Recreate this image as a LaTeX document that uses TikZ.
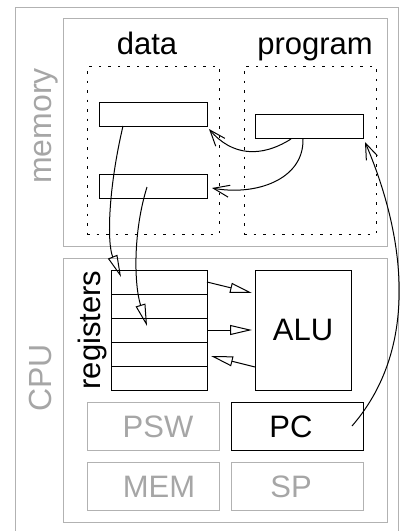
\documentclass[tikz,border=0pt]{standalone}
\usepackage{fontspec}
\setmainfont{Liberation Sans}
\usetikzlibrary{positioning,arrows.meta,calc}

\begin{document}
\begin{tikzpicture}[
        x=0.5pt, y=-0.5pt, line width=0.5pt,
        every node/.style={font=\fontsize{15.5}{18}\selectfont, inner sep=0pt, outer sep=0pt},
        frame/.style={draw=black!30},
        area/.style={draw, dash pattern=on 1.25pt off 3.5pt, minimum width=66pt, minimum height=84pt},
        cell/.style={draw, minimum width=54pt, minimum height=12pt},
        reg/.style={draw, minimum width=48pt, minimum height=12pt},
        spr/.style={draw, minimum width=66pt, minimum height=24pt},
        off/.style={spr, draw=black!30},
        tag/.style={text=black!35, font=\fontsize{16}{18}\selectfont, rotate=90, anchor=base},
        flow/.style={-{Straight Barb[length=8pt, width=6pt]}},
        bus/.style={-{Triangle[open, length=11pt, width=5pt]}}
    ]
        \useasboundingbox (0,0) rectangle (401,531);
        \draw[frame] (15,531) -- (15,7) -- (398,7) -- (398,531);

        % memory
        \node[frame, minimum width=162pt, minimum height=114pt] (memory) at (225,132) {};
        \node[tag] (memory-l) at (52,126) {memory};
        \node[anchor=base] (data-l) at (147,54) {data};
        \node[anchor=base] (program-l) at (315,54) {program};
        \node[area] (data) at (153,150) {};
        \node[area] (program) at (310,150) {};
        \node[cell] (d1) at (153,114) {};
        \node[cell] (d2) at (153,186) {};
        \node[cell] (p1) at (309,126) {};

        % cpu
        \node[frame, minimum width=162pt, minimum height=132pt] (cpu) at (225,390) {};
        \node[tag] (cpu-l) at (52,378) {CPU};
        \node[reg] (r1) at (159,282) {};
        \node[reg, below=0pt of r1] (r2) {};
        \node[reg, below=0pt of r2] (r3) {};
        \node[reg, below=0pt of r3] (r4) {};
        \node[reg, below=0pt of r4] (r5) {};
        \node[tag, text=black, font=\fontsize{15.5}{18}\selectfont] (registers-l) at (100,330) {registers};
        \node[draw, minimum width=48pt, minimum height=60pt] (alu) at (303,330) {ALU};
        \node[off] (psw) at (153,426) {};
        \node[spr] (pc) at (297,426) {};
        \node[off] (mem) at (153,486) {};
        \node[off] (sp) at (297,486) {};
        \node[text=black!35] (psw-l) at (158,427) {PSW};
        \node (pc-l) at (291,427) {PC};
        \node[text=black!35] (mem-l) at (159,487) {MEM};
        \node[text=black!35] (sp-l) at (291,487) {SP};

        % data moves
        \draw[bus] ($(d1.south west)+(24,0)$) .. controls +(-15,64) and +(-14,-34) .. ($(r1.north west)+(10,7)$);
        \draw[bus] ($(d2.center)+(-6,1)$) .. controls +(-14,45) and +(-13,-42) .. ($(r3.center)+(-12,-4)$);
        \draw[flow] ($(p1.south)+(-18,1)$) .. controls +(-30,19) and +(23,27) .. ($(d1.south east)+(2,3)$);
        \draw[flow] ($(p1.south)+(-6,1)$) .. controls +(1,41) and +(43,8) .. ($(d2.east)+(5,2)$);
        \draw[flow] ($(pc.east)+(-11,0)$) .. controls +(72,-83) and +(36,84) .. ($(p1.south east)+(2,4)$);
        \draw[bus] (r1.east) -- ($(alu.north west)+(-3,23)$);
        \draw[bus] (r3.east) -- ($(alu.west)+(-3,0)$);
        \draw[bus] ($(alu.south west)+(0,-23)$) -- ($(r4.east)+(4,2)$);
    \end{tikzpicture}
\end{document}
